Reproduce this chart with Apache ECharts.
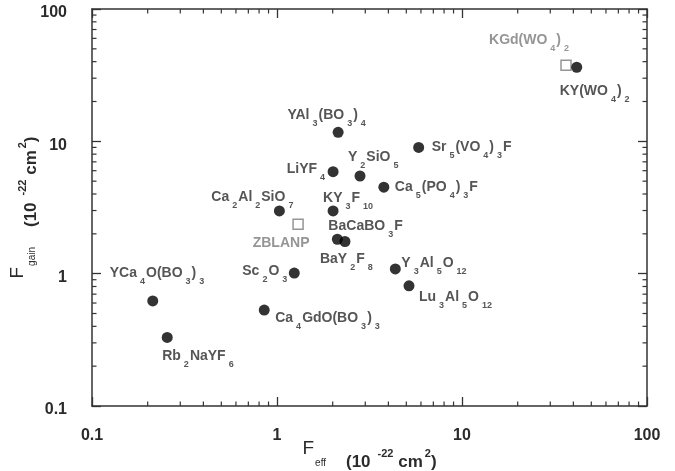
<!DOCTYPE html>
<html>
<head>
<meta charset="utf-8">
<script src="https://cdn.jsdelivr.net/npm/echarts@6/dist/echarts.min.js"></script>
<style>
html,body{margin:0;padding:0;background:#fff;}
#chart{width:675px;height:471px;}
</style>
</head>
<body>
<div id="chart"></div>
<script>
// ---- data ----
const names = ['YCa4O(BO3)3','Rb2NaYF6','Ca4GdO(BO3)3','Sc2O3','Ca2Al2SiO7','ZBLANP','LiYF4','YAl3(BO3)4','KY3F10','BaCaBO3F','BaY2F8','Y2SiO5','Ca5(PO4)3F','Sr5(VO4)3F','Y3Al5O12','Lu3Al5O12','KY(WO4)2','KGd(WO4)2'];
const fEff  = [0.213, 0.255, 0.853, 1.24, 1.03, 1.30, 2.01, 2.14, 2.01, 2.12, 2.33, 2.81, 3.78, 5.83, 4.36, 5.17, 41.7, 36.5];
const fGain = [0.622, 0.330, 0.531, 1.01, 2.98, 2.36, 5.90, 11.7, 2.98, 1.82, 1.75, 5.47, 4.50, 9.00, 1.085, 0.81, 36.3, 37.6];
const kind  = ['crystal','crystal','crystal','crystal','crystal','glass','crystal','crystal','crystal','crystal','crystal','crystal','crystal','crystal','crystal','crystal','crystal','other'];
const xTickLabels = ['0.1','1','10','100'];
const yTickLabels = ['0.1','1','10','100'];
const decades = [0.1, 1, 10];
const minorMultipliers = [2, 3, 4, 5, 6, 7, 8, 9];

// ---- label placement (style, not data) ----
const labelPlace = {
  'YCa4O(BO3)3':  ['left', -43, -28],
  'Rb2NaYF6':     ['left', -5, 19],
  'Ca4GdO(BO3)3': ['left', 11, 8],
  'Sc2O3':        ['right', -6, -2],
  'Ca2Al2SiO7':   ['left', -68, -14],
  'ZBLANP':       ['center', -17, 19],
  'LiYF4':        ['right', -7, -3],
  'YAl3(BO3)4':   ['center', -11, -17],
  'KY3F10':       ['left', -10, -13],
  'BaCaBO3F':     ['left', -9, -13],
  'BaY2F8':       ['left', -25, 18],
  'Y2SiO5':       ['left', -12, -19],
  'Ca5(PO4)3F':   ['left', 11, 0],
  'Sr5(VO4)3F':   ['left', 13, 0],
  'Y3Al5O12':     ['left', 6, -6],
  'Lu3Al5O12':    ['left', 10, 11],
  'KY(WO4)2':     ['left', -17, 24],
  'KGd(WO4)2':    ['right', 4, -25]
};

const FONT = '"Liberation Sans", Arial, Helvetica, sans-serif';
const DARK = '#2b2b2b';
const GREY = '#7a7a7a';

function chem(s) {
  if (s === 'ZBLANP') return s;
  return s.replace(/(\d+)/g, '{s|$1}');
}

function makeItem(i) {
  const p = labelPlace[names[i]];
  const grey = kind[i] !== 'crystal';
  return {
    name: names[i],
    value: [fEff[i], fGain[i]],
    label: {
      show: true,
      position: 'inside',
      align: p[0],
      verticalAlign: 'middle',
      offset: [p[1], p[2]],
      formatter: chem(names[i]),
      color: grey ? GREY : DARK,
      fontFamily: FONT,
      fontWeight: 'bold',
      fontSize: 14,
      lineHeight: 26,
      rich: {
        s: { fontSize: 9, lineHeight: 9, verticalAlign: 'bottom', fontWeight: 'bold',
             fontFamily: FONT, color: grey ? GREY : DARK, padding: [0, 1, 0, 3] }
      }
    }
  };
}

const filled = [], open = [];
for (let i = 0; i < names.length; i++) {
  if (kind[i] === 'crystal') filled.push(makeItem(i)); else open.push(makeItem(i));
}

const xMinor = [], yMinor = [];
decades.forEach(d => minorMultipliers.forEach(m => { xMinor.push([d * m, 1]); yMinor.push([1, d * m]); }));

function tickRender(dir) {
  return function (params, api) {
    const cs = params.coordSys;
    const pt = api.coord([api.value(0), api.value(1)]);
    const L = 4.5;
    const style = { stroke: '#333', lineWidth: 1.2 };
    if (dir === 'x') {
      return { type: 'group', children: [
        { type: 'line', shape: { x1: pt[0], y1: cs.y + cs.height, x2: pt[0], y2: cs.y + cs.height - L }, style },
        { type: 'line', shape: { x1: pt[0], y1: cs.y, x2: pt[0], y2: cs.y + L }, style }
      ]};
    }
    return { type: 'group', children: [
      { type: 'line', shape: { x1: cs.x, y1: pt[1], x2: cs.x + L, y2: pt[1] }, style },
      { type: 'line', shape: { x1: cs.x + cs.width, y1: pt[1], x2: cs.x + cs.width - L, y2: pt[1] }, style }
    ]};
  };
}

const axisLineStyle = { color: '#333', width: 1.5 };
const tickLabelStyle = { color: DARK, fontFamily: FONT, fontWeight: 'bold', fontSize: 16 };

function fmt(labels, rich) {
  return function (v) {
    const idx = Math.round(Math.log10(v)) + 1;
    const t = labels[idx] !== undefined ? labels[idx] : '';
    return rich ? '{t|' + t + '}' : t;
  };
}

const titleRich = {
  F: { fontSize: 19, fontFamily: FONT, color: DARK, verticalAlign: 'top', padding: [0, 0, 0, 0] },
  fs: { fontSize: 10, fontFamily: FONT, color: DARK, verticalAlign: 'bottom', padding: [0, 20, 3, 1] },
  u: { fontSize: 17, fontWeight: 'bold', fontFamily: FONT, color: DARK, verticalAlign: 'bottom', lineHeight: 32 },
  sup: { fontSize: 11, fontWeight: 'bold', fontFamily: FONT, color: DARK, verticalAlign: 'top', padding: [9, 0, 0, 7] },
  sup2: { fontSize: 11, fontWeight: 'bold', fontFamily: FONT, color: DARK, verticalAlign: 'top', padding: [9, 0, 0, 2] }
};

const chart = echarts.init(document.getElementById('chart'), null, { renderer: 'canvas' });
chart.setOption({
  animation: false,
  backgroundColor: '#fff',
  grid: { left: 92, right: 28, top: 9, bottom: 65, containLabel: false, outerBoundsMode: 'none' },
  xAxis: [
    {
      type: 'log', logBase: 10, min: 0.1, max: 100, position: 'bottom',
      axisLine: { show: true, lineStyle: axisLineStyle },
      axisTick: { show: true, inside: true, length: 9, lineStyle: { color: '#333', width: 1.3 } },
      axisLabel: Object.assign({ margin: 22, formatter: fmt(xTickLabels, false) }, tickLabelStyle),
      splitLine: { show: false },
      minorTick: { show: false },
      name: '{F|F}{fs|eff}{u|(10}{sup|-22}{u| cm}{sup2|2}{u|)}',
      nameLocation: 'middle', nameGap: 33, nameMoveOverlap: false,
      nameTextStyle: { color: DARK, fontFamily: FONT, lineHeight: 32, rich: titleRich }
    },
    {
      type: 'log', logBase: 10, min: 0.1, max: 100, position: 'top',
      axisLine: { show: true, lineStyle: axisLineStyle },
      axisTick: { show: true, inside: true, length: 9, lineStyle: { color: '#333', width: 1.3 } },
      axisLabel: { show: false }, splitLine: { show: false }
    }
  ],
  yAxis: [
    {
      type: 'log', logBase: 10, min: 0.1, max: 100, position: 'left',
      axisLine: { show: true, lineStyle: axisLineStyle },
      axisTick: { show: true, inside: true, length: 9, lineStyle: { color: '#333', width: 1.3 } },
      axisLabel: Object.assign({
        margin: 25, formatter: fmt(yTickLabels, true),
        rich: { t: { color: DARK, fontFamily: FONT, fontWeight: 'bold', fontSize: 16, padding: [8, 0, 0, 0] } }
      }, tickLabelStyle),
      splitLine: { show: false },
      name: '{F|F}{fs|gain}{u|(10}{sup|-22}{u| cm}{sup2|2}{u|)}',
      nameLocation: 'middle', nameGap: 52, nameRotate: 90, nameMoveOverlap: false,
      nameTextStyle: { color: DARK, fontFamily: FONT, lineHeight: 32, rich: titleRich }
    },
    {
      type: 'log', logBase: 10, min: 0.1, max: 100, position: 'right',
      axisLine: { show: true, lineStyle: axisLineStyle },
      axisTick: { show: true, inside: true, length: 9, lineStyle: { color: '#333', width: 1.3 } },
      axisLabel: { show: false }, splitLine: { show: false }
    }
  ],
  series: [
    { type: 'custom', xAxisIndex: 0, yAxisIndex: 0, renderItem: tickRender('x'), data: xMinor, silent: true, z: 1 },
    { type: 'custom', xAxisIndex: 0, yAxisIndex: 0, renderItem: tickRender('y'), data: yMinor, silent: true, z: 1 },
    {
      type: 'scatter', xAxisIndex: 0, yAxisIndex: 0, data: open,
      symbol: 'rect', symbolSize: 10,
      itemStyle: { color: '#fff', borderColor: GREY, borderWidth: 1.5 },
      z: 3
    },
    {
      type: 'scatter', xAxisIndex: 0, yAxisIndex: 0, data: filled,
      symbol: 'circle', symbolSize: 11,
      itemStyle: { color: '#000' },
      z: 4
    }
  ]
});
</script>
</body>
</html>
